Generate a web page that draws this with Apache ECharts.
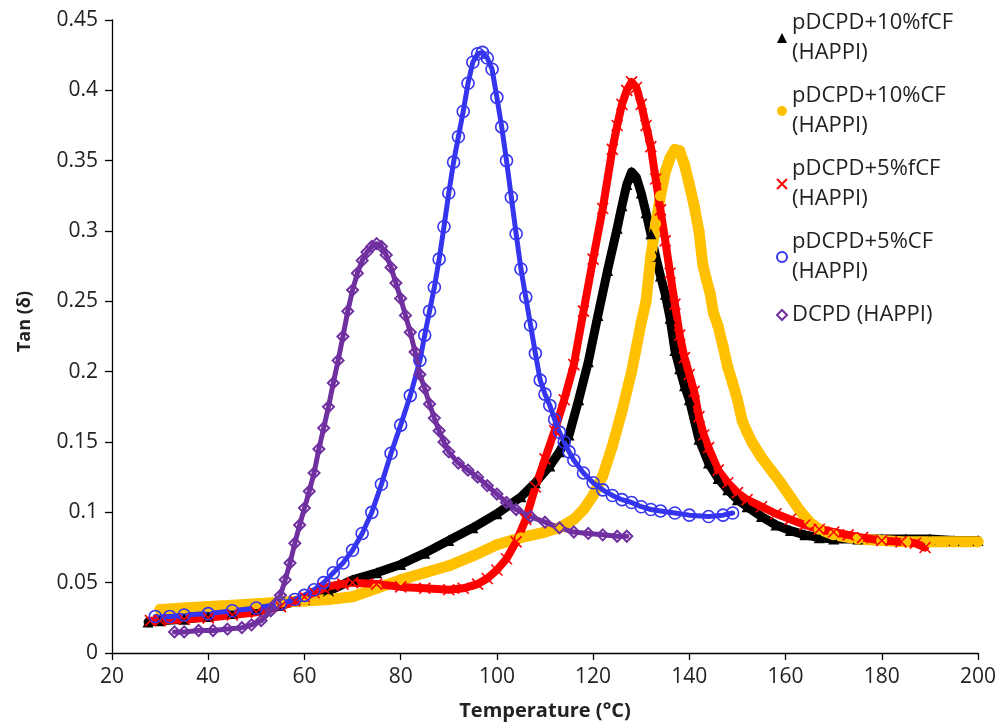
<!DOCTYPE html>
<html><head><meta charset="utf-8">
<script src="https://cdn.jsdelivr.net/npm/echarts@6/dist/echarts.min.js"></script>
<style>html,body{margin:0;padding:0;background:#fff}#c{width:997px;height:723px}</style>
</head><body><div id="c"></div>
<script>
// ---- data ----
const seriesNames = ['pDCPD+10%fCF (HAPPI)', 'pDCPD+10%CF (HAPPI)', 'pDCPD+5%fCF (HAPPI)', 'pDCPD+5%CF (HAPPI)', 'DCPD (HAPPI)'];

const blackT = [27.5,30,35,40,45,50,55,60,65,70,75,80,85,90,95,100,105,108,111,113,115,117,119,121,123,125,126,127,128,129,130,131,132,133,134,135,136,137,138,139,140,142,144,146,148,150,152,155,158,161,164,167,170,175,180,185,190,195,200];
const blackV = [0.022,0.023,0.024,0.026,0.028,0.031,0.034,0.038,0.044,0.052,0.057,0.063,0.071,0.080,0.089,0.099,0.111,0.121,0.133,0.143,0.155,0.180,0.207,0.240,0.272,0.302,0.318,0.333,0.342,0.338,0.327,0.313,0.298,0.282,0.268,0.255,0.238,0.215,0.202,0.190,0.180,0.152,0.135,0.124,0.116,0.109,0.104,0.097,0.091,0.087,0.084,0.082,0.081,0.081,0.081,0.081,0.081,0.080,0.080];

const yellowT = [30,35,40,45,50,55,60,65,70,75,80,85,90,95,100,105,110,113,116,118,120,122,124,126,128,130,131,132,133,134,135,136,137,138,139,140,141,142,142.8,143.5,144.3,145,146,147,148,149,150,151,152,153,155,157,159,161,163,165,167,170,175,180,185,190,195,200];
const yellowV = [0.031,0.032,0.033,0.034,0.035,0.036,0.037,0.038,0.040,0.046,0.052,0.057,0.062,0.069,0.077,0.082,0.086,0.089,0.095,0.102,0.112,0.126,0.147,0.172,0.200,0.235,0.250,0.282,0.305,0.325,0.342,0.352,0.358,0.357,0.347,0.333,0.318,0.300,0.276,0.266,0.256,0.242,0.232,0.218,0.203,0.192,0.180,0.165,0.157,0.150,0.139,0.130,0.121,0.111,0.101,0.093,0.088,0.084,0.081,0.080,0.079,0.079,0.079,0.079];

const redT = [28,30,35,40,45,50,55,58,60,62,64,66,68,70,75,80,85,90,93,96,98,100,102,104,106,108,110,112,114,116,118,120,122,124,125,126,127,128,129,130,131,132,133,134,135,136,137,138,139,140,141,142,143,144,146,148,150,152,155,158,161,164,167,170,173,176,180,184,187,189];
const redV = [0.023,0.023,0.024,0.025,0.027,0.029,0.033,0.037,0.040,0.043,0.046,0.048,0.049,0.050,0.049,0.047,0.046,0.045,0.046,0.049,0.053,0.059,0.067,0.079,0.095,0.118,0.138,0.158,0.180,0.205,0.243,0.280,0.316,0.358,0.375,0.390,0.400,0.406,0.402,0.390,0.375,0.360,0.337,0.315,0.293,0.270,0.248,0.226,0.210,0.198,0.186,0.168,0.155,0.146,0.130,0.121,0.114,0.109,0.104,0.099,0.095,0.091,0.088,0.086,0.084,0.082,0.080,0.079,0.078,0.075];

const blueT = [29,32,35,40,45,50,55,58,60,62,64,66,68,70,72,74,76,78,80,82,84,85,86,87,88,89,90,91,92,93,94,95,96,97,98,99,100,101,102,103,104,105,106,107,108,109,110,111,112,113,114,115,116,118,120,122,124,126,128,130,132,134,137,140,144,147,149];
const blueV = [0.026,0.026,0.027,0.028,0.030,0.032,0.035,0.038,0.041,0.045,0.050,0.057,0.064,0.073,0.085,0.100,0.120,0.142,0.162,0.183,0.208,0.226,0.243,0.260,0.280,0.303,0.327,0.349,0.367,0.385,0.405,0.420,0.426,0.427,0.423,0.415,0.395,0.374,0.350,0.324,0.298,0.273,0.253,0.233,0.213,0.194,0.184,0.176,0.166,0.157,0.150,0.143,0.137,0.128,0.121,0.116,0.112,0.109,0.107,0.104,0.102,0.101,0.0995,0.098,0.097,0.098,0.0995];

const purpleT = [33,35,38,41,44,47,49,51,53,54,55,56,57,58,59,60,61,62,63,64,65,66,67,68,69,70,71,72,73,74,75,76,77,78,79,80,81,82,83,84,85,86,87,88,89,90,92,94,96,98,100,102,104,107,110,113,116,119,122,125,127];
const purpleV = [0.015,0.015,0.016,0.016,0.017,0.018,0.020,0.023,0.030,0.035,0.041,0.052,0.064,0.078,0.091,0.103,0.115,0.128,0.145,0.160,0.175,0.192,0.208,0.225,0.243,0.258,0.270,0.279,0.285,0.289,0.291,0.289,0.283,0.274,0.263,0.252,0.240,0.228,0.214,0.198,0.188,0.177,0.167,0.158,0.150,0.143,0.135,0.130,0.125,0.119,0.113,0.107,0.102,0.097,0.093,0.089,0.086,0.085,0.084,0.083,0.083];

const xTicks = {min: 20, max: 200, step: 20};
const yTicks = {min: 0, max: 0.45, step: 0.05};
// ---------------------------------------

const zip = (a, b) => a.map((t, i) => [t, b[i]]);
const FONT = "'Open Sans', 'Liberation Sans', sans-serif";
const crossPath = 'path://M0,0L10,10M10,0L0,10';
const tr = 'rgba(0,0,0,0)';

const chart = echarts.init(document.getElementById('c'), null, {renderer: 'canvas'});

function mk(name, data, symbol, size, itemStyle, lineColor, lineWidth) {
  return {
    name, type: 'line', data, symbol, symbolSize: size, showAllSymbol: true,
    itemStyle, lineStyle: {color: lineColor, width: lineWidth, join: 'round', cap: 'round'},
    emphasis: {disabled: true}, animation: false, clip: false
  };
}

chart.setOption({
  animation: false,
  backgroundColor: '#fff',
  grid: {left: 112, right: 19, top: 20, bottom: 70, containLabel: false, outerBoundsMode: 'none'},
  legend: {
    orient: 'vertical', left: 776, top: 8, itemGap: 13, itemWidth: 10, itemHeight: 10,
    padding: 0,
    selectedMode: false,
    textStyle: {fontFamily: FONT, fontSize: 22, lineHeight: 30, color: '#222'},
    formatter: n => n.indexOf('pDCPD') === 0 ? n.replace(' (HAPPI)', '\n(HAPPI)') : n,
    data: [
      {name: seriesNames[0], icon: 'triangle'},
      {name: seriesNames[1], icon: 'circle'},
      {name: seriesNames[2], icon: crossPath},
      {name: seriesNames[3], icon: 'circle'},
      {name: seriesNames[4], icon: 'diamond'}
    ]
  },
  xAxis: {
    type: 'value', min: xTicks.min, max: xTicks.max, interval: xTicks.step,
    name: 'Temperature (°C)', nameLocation: 'middle', nameGap: 48,
    nameTextStyle: {fontFamily: FONT, fontSize: 20, fontWeight: 'bold', color: '#222'},
    axisLine: {lineStyle: {color: '#000', width: 1.3}},
    axisTick: {inside: false, length: 7, lineStyle: {color: '#000', width: 1.3}},
    axisLabel: {fontFamily: FONT, fontSize: 21, color: '#222', margin: 14},
    splitLine: {show: false}
  },
  yAxis: {
    type: 'value', min: yTicks.min, max: yTicks.max, interval: yTicks.step,
    name: 'Tan (δ)', nameLocation: 'middle', nameGap: 78,
    nameTextStyle: {fontFamily: FONT, fontSize: 18, fontWeight: 'bold', color: '#222', padding: [0, 0, 0, 30]},
    axisLine: {show: true, lineStyle: {color: '#000', width: 1.3}},
    axisTick: {show: true, inside: false, length: 7, lineStyle: {color: '#000', width: 1.3}},
    axisLabel: {fontFamily: FONT, fontSize: 21, color: '#222', margin: 14,
      formatter: v => String(Math.round(v * 100) / 100)},
    splitLine: {show: false}
  },
  series: [
    mk(seriesNames[0], zip(blackT, blackV), 'triangle', 11, {color: '#000'}, '#000', 9),
    mk(seriesNames[1], zip(yellowT, yellowV), 'circle', 11, {color: '#FFC000'}, '#FFC000', 11),
    mk(seriesNames[2], zip(redT, redV), crossPath, 11, {color: tr, borderColor: '#FF0000', borderWidth: 1.6}, '#FF0000', 8),
    mk(seriesNames[3], zip(blueT, blueV), 'circle', 12, {color: tr, borderColor: '#3535F0', borderWidth: 1.6}, '#3535F0', 5),
    mk(seriesNames[4], zip(purpleT, purpleV), 'diamond', 11, {color: tr, borderColor: '#7030A0', borderWidth: 2}, '#7030A0', 5)
  ]
});
</script>
</body></html>
